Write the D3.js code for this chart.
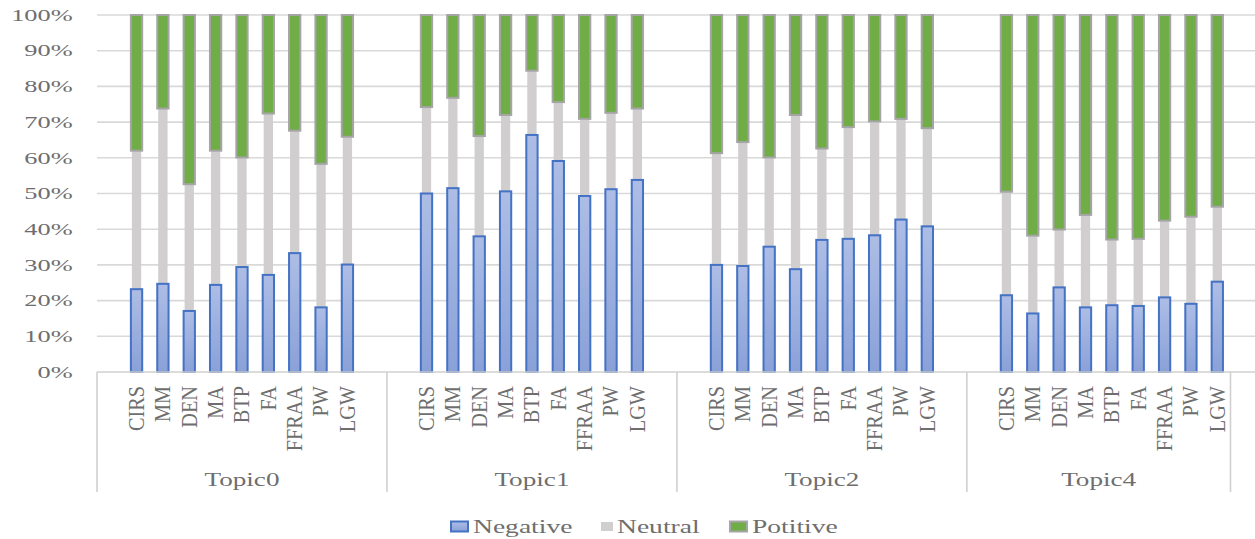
<!DOCTYPE html>
<html>
<head>
<meta charset="utf-8">
<script src="https://cdn.jsdelivr.net/npm/d3@7"></script>
<style>
  html, body { margin: 0; padding: 0; background: #fff; }
  svg { display: block; }
  text { font-family: "Liberation Serif", "Times New Roman", serif; fill: #6e6e6e; }
</style>
</head>
<body>
<svg id="chart" width="1255" height="539"></svg>
<script>
// Sentiment share (%) per news source, grouped by topic
const topics = ["Topic0", "Topic1", "Topic2", "Topic4"];
const sources = ["CIRS", "MM", "DEN", "MA", "BTP", "FA", "FFRAA", "PW", "LGW"];
const seriesNames = ["Negative", "Neutral", "Potitive"];

const negative = [
  [23.2, 24.7, 17.1, 24.4, 29.4, 27.2, 33.3, 18.1, 30.1],
  [50.0, 51.5, 38.0, 50.6, 66.4, 59.1, 49.3, 51.2, 53.8],
  [30.0, 29.7, 35.1, 28.8, 37.0, 37.3, 38.3, 42.7, 40.8],
  [21.5, 16.4, 23.7, 18.1, 18.7, 18.5, 20.9, 19.1, 25.3]
];
const neutral = [
  [38.8, 49.1, 35.5, 37.6, 30.7, 45.2, 34.3, 40.2, 35.8],
  [24.2, 25.3, 28.1, 21.4, 18.0, 16.5, 21.6, 21.4, 20.0],
  [31.3, 34.7, 25.0, 43.2, 25.6, 31.3, 31.9, 28.2, 27.5],
  [29.0, 21.8, 16.2, 25.9, 18.4, 18.8, 21.5, 24.4, 21.0]
];
const positive = [
  [38.0, 26.2, 47.4, 38.0, 39.9, 27.6, 32.4, 41.7, 34.1],
  [25.8, 23.2, 33.9, 28.0, 15.6, 24.4, 29.1, 27.4, 26.2],
  [38.7, 35.6, 39.9, 28.0, 37.4, 31.4, 29.8, 29.1, 31.7],
  [49.5, 61.8, 60.1, 56.0, 62.9, 62.7, 57.6, 56.5, 53.7]
];
const yTicks = [0, 0.1, 0.2, 0.3, 0.4, 0.5, 0.6, 0.7, 0.8, 0.9, 1.0];

// Rows for the stack: one per topic/source pair
const rows = [];
topics.forEach((t, ti) => sources.forEach((s, si) => rows.push({
  key: t + "|" + s, topic: t, source: s,
  Negative: negative[ti][si], Neutral: neutral[ti][si], Potitive: positive[ti][si]
})));

// Category slots: each topic gets a blank slot before and after its sources
const slots = [];
topics.forEach(t => {
  slots.push(t + "|_pre");
  sources.forEach(s => slots.push(t + "|" + s));
  slots.push(t + "|_post");
});

const svg = d3.select("#chart");
const plotLeft = 97, slotW = 26.36;
const x = d3.scaleBand().domain(slots).range([plotLeft, plotLeft + slots.length * slotW]).padding(0);
const y = d3.scaleLinear().domain([0, 1]).range([372, 15]);

const stack = d3.stack().keys(seriesNames).offset(d3.stackOffsetExpand);
const stacked = stack(rows);

// Gradient for the negative bars
const defs = svg.append("defs");
const grad = defs.append("linearGradient").attr("id", "negGrad").attr("x1", 0).attr("y1", 0).attr("x2", 0).attr("y2", 1);
grad.append("stop").attr("offset", "0%").attr("stop-color", "#adbde5");
grad.append("stop").attr("offset", "100%").attr("stop-color", "#8aa1d8");

// Horizontal gridlines
svg.append("g").selectAll("line").data(yTicks.slice(1)).join("line")
  .attr("x1", plotLeft).attr("x2", 1255)
  .attr("y1", d => y(d)).attr("y2", d => y(d))
  .attr("stroke", "#d9d9d9").attr("stroke-width", 1.6);

// Y axis labels
const yAxis = d3.axisLeft(y).tickValues(yTicks).tickFormat(d3.format(".0%")).tickSize(0).tickPadding(15.2);
const yg = svg.append("g").attr("transform", `translate(${plotLeft},0)`).call(yAxis);
yg.select(".domain").remove();
yg.selectAll("text")
  .attr("font-family", "Liberation Serif").attr("font-size", 16.5)
  .attr("fill", "#737373")
  .attr("transform", "scale(1.6,1)");

// Bars
const barW = 11.3;
const styles = {
  Negative: { fill: "url(#negGrad)", stroke: "#4472c4", sw: 2, inset: 0 },
  Neutral:  { fill: "#d0cece", stroke: "none", sw: 0, inset: 1 },
  Potitive: { fill: "#70ad47", stroke: "#a5a5a5", sw: 2, inset: 0 }
};
const drawOrder = ["Neutral", "Negative", "Potitive"];
drawOrder.forEach(name => {
  const layer = stacked.find(l => l.key === name);
  const st = styles[name];
  svg.append("g").selectAll("rect").data(layer).join("rect")
    .attr("x", d => x(d.data.key) + x.bandwidth() / 2 - barW / 2 + st.inset)
    .attr("width", barW - 2 * st.inset)
    .attr("y", d => y(d[1]))
    .attr("height", d => y(d[0]) - y(d[1]))
    .attr("fill", st.fill)
    .attr("stroke", st.stroke)
    .attr("stroke-width", st.sw);
});

// Category axis line
svg.append("line").attr("x1", plotLeft).attr("x2", 1255).attr("y1", 372).attr("y2", 372)
  .attr("stroke", "#d0d0d0").attr("stroke-width", 1.6);

// Group separators and topic labels
const groupEdges = topics.map(t => x(t + "|_pre"));
const lastTopic = topics[topics.length - 1];
groupEdges.push(x(lastTopic + "|" + sources[sources.length - 1]) + x.bandwidth());
svg.append("g").selectAll("line").data(groupEdges).join("line")
  .attr("x1", d => d).attr("x2", d => d).attr("y1", 372).attr("y2", 492)
  .attr("stroke", "#d0d0d0").attr("stroke-width", 1.6);

svg.append("g").selectAll("text").data(topics).join("text")
  .attr("transform", (t, i) => `translate(${(groupEdges[i] + groupEdges[i + 1]) / 2},486) scale(1.43,1)`)
  .attr("text-anchor", "middle")
  .attr("font-size", 19)
  .text(t => t);

// Rotated source labels
svg.append("g").selectAll("text").data(rows).join("text")
  .attr("transform", d => `translate(${x(d.key) + x.bandwidth() / 2},386) rotate(-90) scale(1.04,1.15)`)
  .attr("text-anchor", "end")
  .attr("dy", "0.33em")
  .attr("font-size", 19.5)
  .text(d => d.source);

// Legend
const legendX = [450, 600, 729];
const legend = svg.append("g").selectAll("g").data(seriesNames).join("g")
  .attr("transform", (d, i) => `translate(${legendX[i]},0)`);
legend.append("rect")
  .attr("x", d => d === "Neutral" ? 1 : 1)
  .attr("y", d => d === "Neutral" ? 522 : 521.5)
  .attr("width", d => d === "Neutral" ? 12 : 17)
  .attr("height", d => d === "Neutral" ? 9 : 10)
  .attr("fill", d => styles[d].fill)
  .attr("stroke", d => styles[d].stroke)
  .attr("stroke-width", 2);
legend.append("text")
  .attr("transform", d => `translate(${d === "Neutral" ? 17 : 23},533) scale(1.45,1)`)
  .attr("font-size", 19)
  .text(d => d);
</script>
</body>
</html>
